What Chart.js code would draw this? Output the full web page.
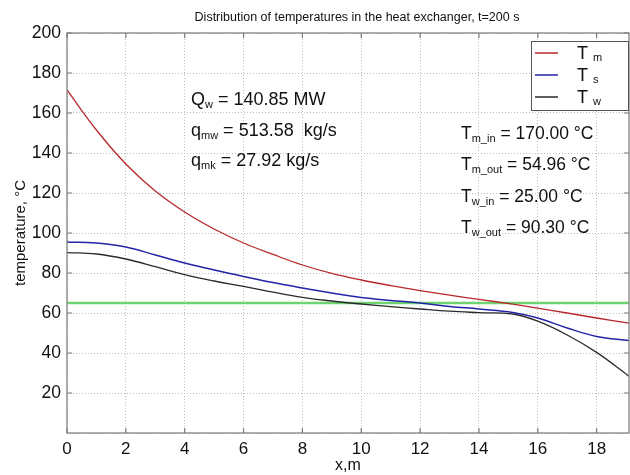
<!DOCTYPE html>
<html>
<head>
<meta charset="utf-8">
<script src="https://cdn.jsdelivr.net/npm/chart.js@4"></script>
<style>
  body{ margin:0; background:#fff; }
  canvas{ display:block; }
</style>
</head>
<body>
<canvas id="chartTemp" width="630" height="475"></canvas>
<script>
// position along the exchanger, m
const xs = [0,1,2,3,4,5,6,7,8,9,10,11,12,13,14,15.15,16,17,18,19.1];
// temperatures, °C
const tm = [171.5,151.5,134.5,121,110.5,102,95,89.3,84,79.8,76.5,73.7,71.2,68.9,66.8,64.4,62.4,60,57.5,54.96];
const ts = [95.5,95,93,89,85,81.5,78.3,75.2,72.5,70,67.8,66.3,65,63.3,62,60.3,57.5,52.5,48.3,46.3];
const tw = [90.2,89.5,87,83.2,79.2,76,73.3,70.4,67.8,66,64.5,63.2,62,60.9,60.2,59.5,55.9,49,40.3,28.4];
const xsRef = [0,19.1];
const tRef = [65,65];

const xTicks = [0,2,4,6,8,10,12,14,16,18];
const yTicks = [20,40,60,80,100,120,140,160,180,200];

const titleText = 'Distribution of temperatures in the heat exchanger, t=200 s';
// [main, subscript, rest]
const notesLeft = [
  ['Q','w',' = 140.85 MW'],
  ['q','mw',' = 513.58  kg/s'],
  ['q','mk',' = 27.92 kg/s']
];
const notesRight = [
  ['T','m_in',' = 170.00 °C'],
  ['T','m_out',' = 54.96 °C'],
  ['T','w_in',' = 25.00 °C'],
  ['T','w_out',' = 90.30 °C']
];

const FONT = '"Liberation Sans", Arial, sans-serif';

function pts(xv, yv){ return xv.map((x,i)=>({x:x, y:yv[i]})); }

function subText(ctx, x, y, main, sub, rest, size){
  ctx.font = size+'px '+FONT;
  ctx.fillText(main, x, y);
  let w = ctx.measureText(main).width;
  const ss = Math.round(size*0.62);
  ctx.font = ss+'px '+FONT;
  ctx.fillText(sub, x+w, y+3);
  w += ctx.measureText(sub).width;
  ctx.font = size+'px '+FONT;
  ctx.fillText(rest, x+w, y);
}

const decor = {
  id:'decor',
  afterDraw(chart){
    const ctx = chart.ctx, a = chart.chartArea;
    const sx = chart.scales.x, sy = chart.scales.y;
    ctx.save();
    // box + inward ticks
    ctx.strokeStyle = '#7a7a7a';
    ctx.lineWidth = 1.2;
    ctx.strokeRect(a.left, a.top, a.right-a.left, a.bottom-a.top);
    ctx.beginPath();
    xTicks.forEach(v=>{
      const p = sx.getPixelForValue(v);
      ctx.moveTo(p, a.bottom); ctx.lineTo(p, a.bottom-5);
      ctx.moveTo(p, a.top); ctx.lineTo(p, a.top+5);
    });
    yTicks.forEach(v=>{
      const p = sy.getPixelForValue(v);
      ctx.moveTo(a.left, p); ctx.lineTo(a.left+5, p);
      ctx.moveTo(a.right, p); ctx.lineTo(a.right-5, p);
    });
    ctx.stroke();

    // title
    ctx.fillStyle = '#111';
    ctx.textAlign = 'center';
    ctx.textBaseline = 'alphabetic';
    ctx.font = '12.5px '+FONT;
    ctx.fillText(titleText, 357, 21);

    // notes
    ctx.textAlign = 'left';
    const lb = [105,136,166];
    notesLeft.forEach((n,i)=>subText(ctx, 191, lb[i], n[0], n[1], n[2], 18));
    const rb = [139,170,202,233];
    notesRight.forEach((n,i)=>subText(ctx, 461, rb[i], n[0], n[1], n[2], 17.5));

    // legend
    const bx = 531, by = 41, bw = 97, bh = 69;
    ctx.fillStyle = '#fff';
    ctx.fillRect(bx, by, bw, bh);
    ctx.strokeStyle = '#555';
    ctx.lineWidth = 1;
    ctx.strokeRect(bx+0.5, by+0.5, bw, bh);
    const ly = [53,75,97];
    chart.data.datasets.slice(0,3).forEach((ds,i)=>{
      ctx.strokeStyle = ds.borderColor;
      ctx.lineWidth = 1.5;
      ctx.beginPath();
      ctx.moveTo(535, ly[i]); ctx.lineTo(558, ly[i]);
      ctx.stroke();
      ctx.fillStyle = '#111';
      ctx.font = '18px '+FONT;
      ctx.fillText('T', 577, ly[i]+6);
      ctx.font = '11px '+FONT;
      ctx.fillText(ds.label.split('_')[1], 593, ly[i]+8);
    });
    ctx.restore();
  }
};

new Chart(document.getElementById('chartTemp'), {
  type:'line',
  data:{
    datasets:[
      { label:'T_m', data:pts(xs,tm), borderColor:'#b8282a', borderWidth:1.3 },
      { label:'T_s', data:pts(xs,ts), borderColor:'#2424a8', borderWidth:1.5 },
      { label:'T_w', data:pts(xs,tw), borderColor:'#2a2a2a', borderWidth:1.3 },
      { label:'ref', data:pts(xsRef,tRef), borderColor:'#6fd46f', borderWidth:2.5, tension:0 }
    ]
  },
  options:{
    responsive:false,
    animation:false,
    events:[],
    layout:{ padding:{ top:33, right:1, left:0, bottom:0 } },
    elements:{
      point:{ radius:0 },
      line:{ tension:0.4, fill:false }
    },
    plugins:{ legend:{ display:false }, tooltip:{ enabled:false }, title:{ display:false } },
    scales:{
      x:{
        type:'linear', min:0, max:19.1,
        afterFit: s=>{ s.height = 42; },
        grid:{ color:'#bcbcbc', drawTicks:false, lineWidth:1 },
        border:{ display:false, dash:[1,2] },
        ticks:{ stepSize:2, includeBounds:false, padding:6, color:'#111', maxRotation:0,
                font:{ family:FONT, size:17 } },
        title:{ display:true, text:'x,m', color:'#111', padding:{ top:1, bottom:0 },
                font:{ family:FONT, size:16 } }
      },
      y:{
        type:'linear', min:0, max:200,
        afterFit: s=>{ s.width = 67; },
        grid:{ color:'#bcbcbc', drawTicks:false, lineWidth:1 },
        border:{ display:false, dash:[1,2] },
        ticks:{ stepSize:20, padding:6, color:'#111',
                font:{ family:FONT, size:17.5 },
                callback: v => v === 0 ? '' : v },
        title:{ display:true, text:'temperature, °C', color:'#111', padding:{ top:12, bottom:0 },
                font:{ family:FONT, size:15 } }
      }
    }
  },
  plugins:[decor]
});
</script>
</body>
</html>
